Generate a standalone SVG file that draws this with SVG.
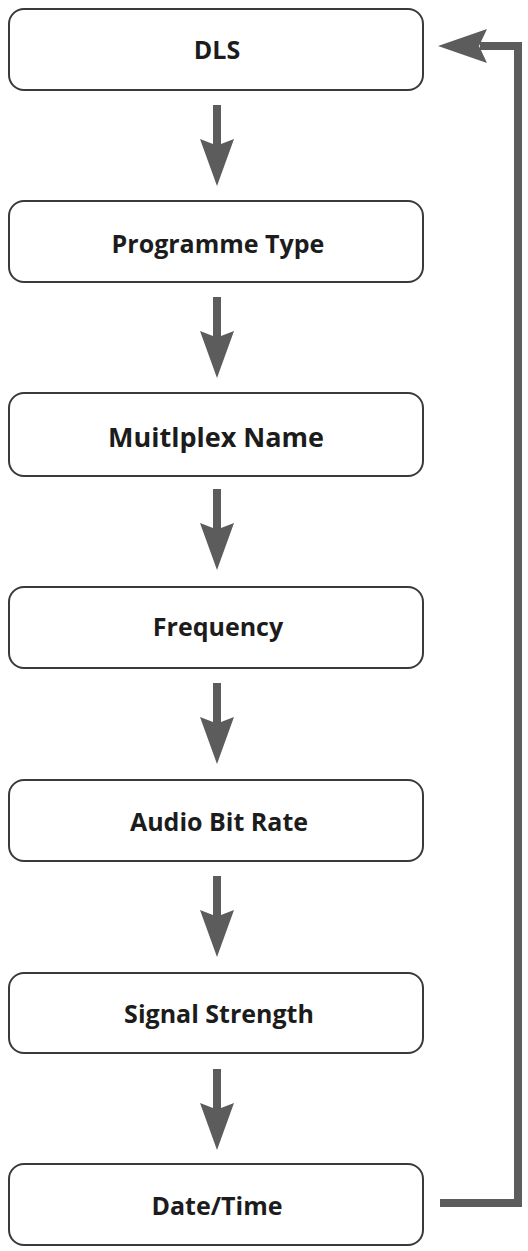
<svg xmlns="http://www.w3.org/2000/svg" width="528" height="1251" viewBox="0 0 528 1251">
<style>
.box{fill:#fff;stroke:#3a3a3a;stroke-width:2}
.lbl{font-family:"Open Sans","Noto Sans",sans-serif;font-weight:700;font-size:25px;fill:#1c1c1c;text-anchor:middle}
.arr{fill:#5c5c5c}
.ret{fill:none;stroke:#5c5c5c;stroke-width:8;stroke-linejoin:miter}
</style>
<defs>
<path id="down" d="M-4,0 H4 V39 L17,34 L0,81 L-17,34 L-4,39 Z"/>
</defs>
<rect width="528" height="1251" fill="#fff"/>
<g id="connectors">
<use href="#down" class="arr" x="217" y="105"/>
<use href="#down" class="arr" x="217" y="297"/>
<use href="#down" class="arr" x="217" y="489"/>
<use href="#down" class="arr" x="217" y="683"/>
<use href="#down" class="arr" x="217" y="876"/>
<use href="#down" class="arr" x="217" y="1069"/>
<path class="ret" d="M440,1203 H518 V46 H480"/>
<polygon class="arr" points="438,46 487,29 479,46 487,63"/>
</g>
<g id="dls"><rect class="box" x="9" y="9" width="414" height="81" rx="15"/><text class="lbl" x="217" y="59">DLS</text></g>
<g id="programme-type"><rect class="box" x="9" y="201" width="414" height="81" rx="15"/><text class="lbl" x="218" y="253">Programme Type</text></g>
<g id="multiplex-name"><rect class="box" x="9" y="393" width="414" height="83" rx="15"/><text class="lbl" x="216" y="447" style="font-size:27px">Muitlplex Name</text></g>
<g id="frequency"><rect class="box" x="9" y="587" width="414" height="81" rx="15"/><text class="lbl" x="218" y="636">Frequency</text></g>
<g id="audio-bit-rate"><rect class="box" x="9" y="780" width="414" height="81" rx="15"/><text class="lbl" x="219" y="831">Audio Bit Rate</text></g>
<g id="signal-strength"><rect class="box" x="9" y="973" width="414" height="80" rx="15"/><text class="lbl" x="219" y="1023">Signal Strength</text></g>
<g id="date-time"><rect class="box" x="9" y="1164" width="414" height="81" rx="15"/><text class="lbl" x="217" y="1215">Date/Time</text></g>
</svg>
